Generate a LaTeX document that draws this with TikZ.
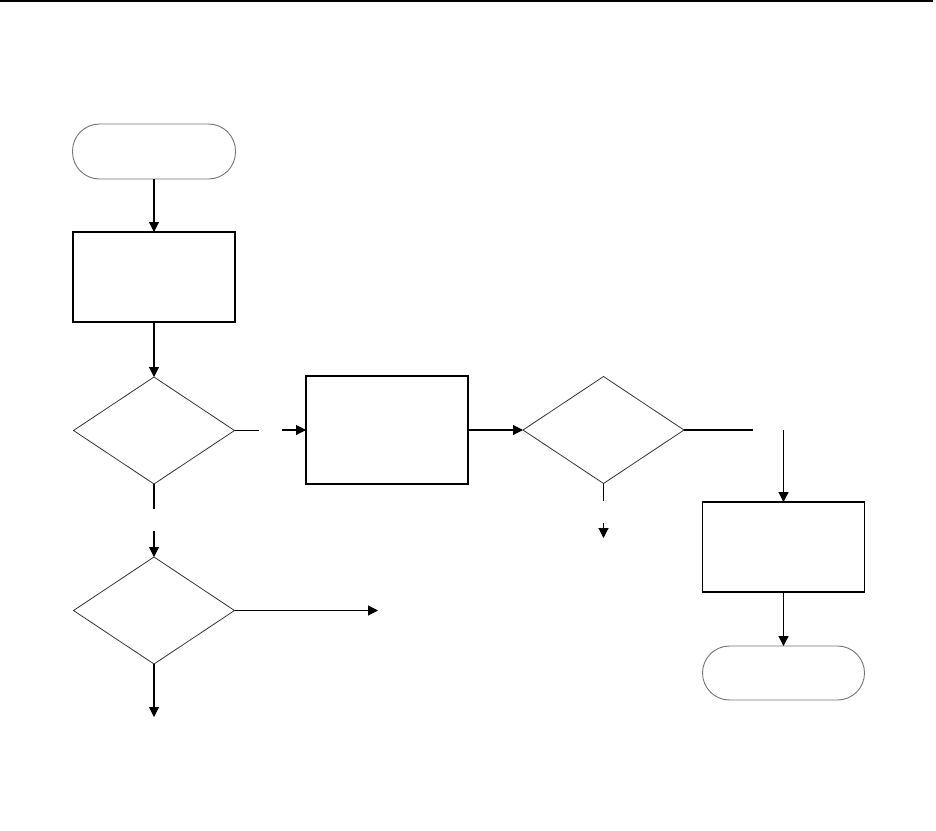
\documentclass[tikz,border=0pt]{standalone}
\usetikzlibrary{shapes.geometric,arrows.meta}
\begin{document}
\begin{tikzpicture}[x=1pt,y=-1pt,
  procbox/.style={draw=black,line width=1.2pt,rectangle,minimum width=162pt,minimum height=90pt,inner sep=0pt,outer sep=0pt},
  termbox/.style={draw=black!55,line width=0.9pt,rectangle,rounded corners=27pt,minimum width=163pt,minimum height=55pt,inner sep=0pt,outer sep=0pt},
  decbox/.style={draw=black!80,line width=0.8pt,diamond,aspect=1.5,minimum width=161pt,minimum height=107pt,inner sep=0pt,outer sep=0pt},
  conn/.style={line width=1.1pt,draw=black},
  arr/.style={conn,-{Triangle[length=10pt,width=10pt]}}]
\useasboundingbox (0,0) rectangle (936,830);
\draw[line width=1.5pt] (0,1) coordinate (tl) -- (933,1) coordinate (tr);
% nodes
\node[termbox] (start) at (154,151.5) {};
\node[procbox] (p1) at (154,277) {};
\node[decbox] (d1) at (154,430.5) {};
\node[procbox,minimum height=108pt] (p2) at (387,430) {};
\node[decbox] (d2) at (603.5,430) {};
\node[decbox] (d3) at (154,610.5) {};
\node[procbox] (p3) at (783.5,547) {};
\node[termbox,minimum width=162pt,minimum height=54pt] (stop) at (783.5,673) {};
% free-end coordinates
\coordinate (g1a) at (259,430.5);
\coordinate (g1b) at (282,430);
\coordinate (r1) at (753,430);
\coordinate (r2) at (783.5,430);
\coordinate (g2a) at (603.5,501);
\coordinate (g2b) at (603.5,523);
\coordinate (g2c) at (603.5,538);
\coordinate (g3a) at (154,509);
\coordinate (g3b) at (154,531);
\coordinate (e3) at (378,610.5);
\coordinate (s3) at (154,717);
% connectors
\draw[arr] (start.south) -- (p1.north);
\draw[arr] (p1.south) -- (d1.north);
\draw[conn] (d1.east) -- (g1a);
\draw[arr] (g1b) -- (p2.west);
\draw[arr] (p2.east) -- (d2.west);
\draw[conn] (d2.east) -- (r1);
\draw[arr] (r2) -- (p3.north);
\draw[arr] (p3.south) -- (stop.north);
\draw[conn] (d2.south) -- (g2a);
\draw[arr] (g2b) -- (g2c);
\draw[conn] (d1.south) -- (g3a);
\draw[arr] (g3b) -- (d3.north);
\draw[arr] (d3.east) -- (e3);
\draw[arr] (d3.south) -- (s3);
\end{tikzpicture}
\end{document}
